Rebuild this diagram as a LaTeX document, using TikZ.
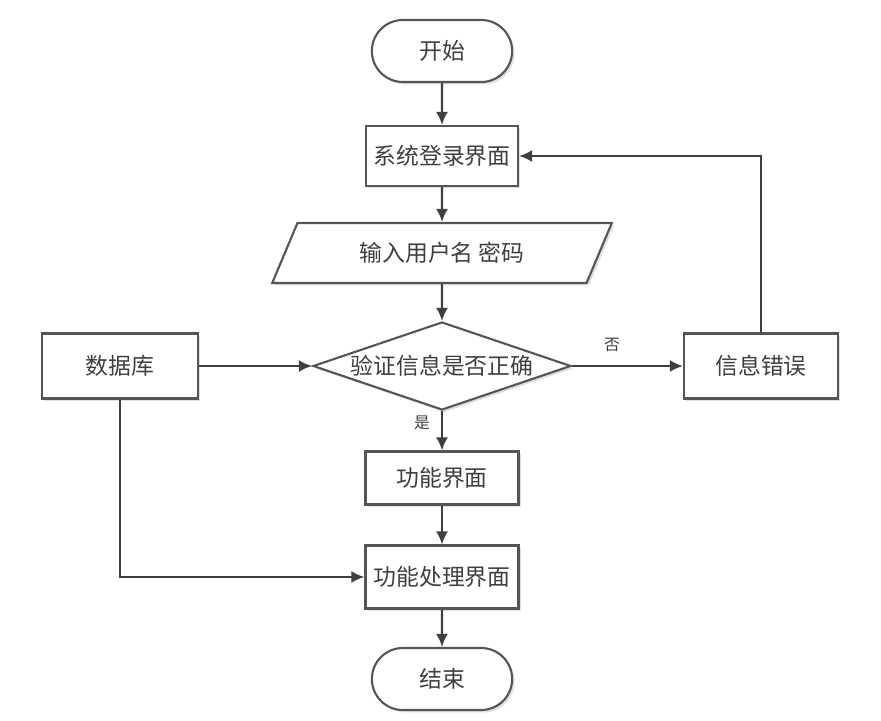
\documentclass[tikz,border=0pt]{standalone}
\usepackage{fontspec}
\usepackage{tikz}
\usetikzlibrary{arrows.meta,positioning,shapes.geometric,shapes.misc,shadows}
\newfontfamily\cjk{Noto Sans CJK SC}
\definecolor{ink}{HTML}{3F3F3F}
\definecolor{edge}{HTML}{555555}
\tikzset{
  box/.style={
    draw=edge, fill=white, line width=1.2pt,
    drop shadow={shadow xshift=1.4pt, shadow yshift=-1.4pt, fill=black!25},
    align=center, text=ink, font=\cjk\fontsize{13}{15}\selectfont
  },
  term/.style={
    box, rounded rectangle, minimum width=3.04cm, minimum height=1.24cm
  },
  iobox/.style={
    box, trapezium, trapezium left angle=65, trapezium right angle=115,
    trapezium stretches=true, minimum width=6.8cm, minimum height=1.2cm
  },
  decide/.style={
    box, diamond, inner sep=0pt, aspect=2.93,
    minimum width=5.16cm, minimum height=1.76cm
  },
  arrow/.style={-{Latex[length=2.6mm,width=2.4mm]}, line width=1.2pt, draw=ink},
  tag/.style={text=ink, font=\cjk\fontsize{9}{11}\selectfont}
}

\begin{document}
\begin{tikzpicture}
  \useasboundingbox (0,0) rectangle (17.62,14.4);

  % main column
  \node[term] (start) at (8.84,13.38) {开始};
  \node[box, minimum width=3.04cm, minimum height=1.2cm] (login) at (8.84,11.28) {系统登录界面};
  \node[iobox] (input) at (8.84,9.34) {输入用户名 密码};
  \node[decide] (check) at (8.84,7.08) {验证信息是否正确};
  \node[box, minimum width=3.06cm, minimum height=1.06cm] (func) at (8.84,4.84) {功能界面};
  \node[box, minimum width=3.06cm, minimum height=1.26cm] (proc) at (8.84,2.86) {功能处理界面};
  \node[term] (stop) at (8.84,0.82) {结束};

  % side boxes
  \node[box, minimum width=3.12cm, minimum height=1.3cm] (db) at (2.4,7.08) {数据库};
  \node[box, minimum width=3.08cm, minimum height=1.3cm] (err) at (15.22,7.08) {信息错误};

  \draw[arrow] (start) -- (login);
  \draw[arrow] (login) -- (input);
  \draw[arrow] (input) -- (check);
  \draw[arrow] (check.south) -- node[tag, left=3pt, pos=0.3] {是} (func.north);
  \draw[arrow] (func) -- (proc);
  \draw[arrow] (proc) -- (stop);
  \draw[arrow] (db.east) -- (check.west);
  \draw[arrow] (check.east) -- node[tag, above=4pt, pos=0.36] {否} (err.west);
  \draw[arrow] (err.north) |- (login.east);
  \draw[arrow] (db.south) |- (proc.west);
\end{tikzpicture}
\end{document}
